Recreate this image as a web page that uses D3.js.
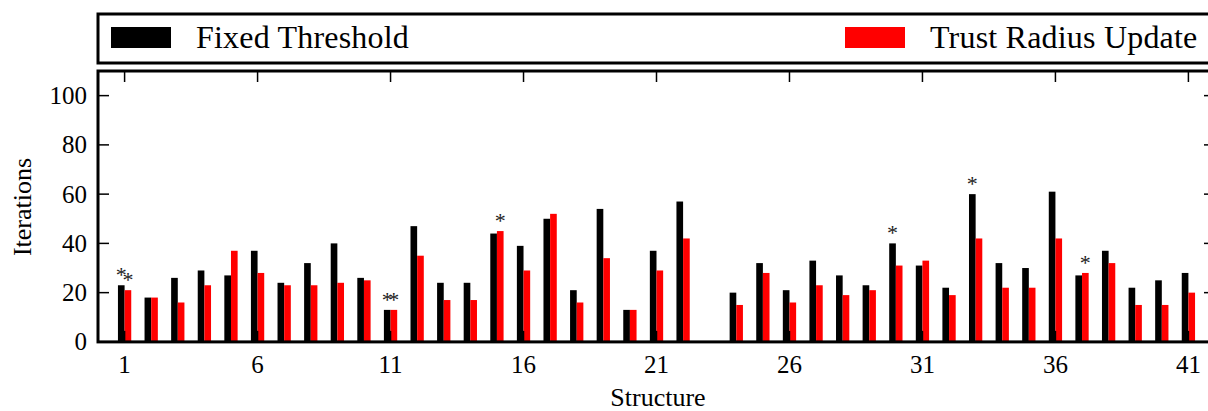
<!DOCTYPE html>
<html lang="en">
<head>
    <meta charset="UTF-8">
    <title>Iterations per Structure</title>
    <script src="https://d3js.org/d3.v7.min.js"></script>
    <style>
        body {
            margin: 0;
            background: #fff;
            font-family: "Liberation Serif", "DejaVu Serif", serif;
        }
        .bar-fixed { fill: #000; }
        .bar-trust { fill: #ff0000; }
        .spine { stroke: #000; stroke-width: 3; fill: none; }
        .tick-mark { stroke: #000; stroke-width: 1.5; }
    </style>
</head>
<body>
    <div id="chart"></div>
    <script>
        // Data (null = no run for that structure)
        var structures = d3.range(1, 42);
        var fixedThreshold = [23, 18, 26, 29, 27, 37, 24, 32, 40, 26,
                              13, 47, 24, 24, 44, 39, 50, 21, 54, 13,
                              37, 57, null, 20, 32, 21, 33, 27, 23, 40,
                              31, 22, 60, 32, 30, 61, 27, 37, 22, 25, 28];
        var trustRadius = [21, 18, 16, 23, 37, 28, 23, 23, 24, 25,
                           13, 35, 17, 17, 45, 29, 52, 16, 34, 13,
                           29, 42, null, 15, 28, 16, 23, 19, 21, 31,
                           33, 19, 42, 22, 22, 42, 28, 32, 15, 15, 20];
        // structures marked with an asterisk above the bar
        var starsFixed = [1, 11, 30, 33];
        var starsTrust = [1, 11, 15, 37];
        var yTicks = [0, 20, 40, 60, 80, 100];
        var xTicks = [1, 6, 11, 16, 21, 26, 31, 36, 41];

        var W = 1208, H = 411;
        var margin = {top: 71, left: 98, bottom: 69};
        var plotRight = 1215;   // right spine falls just outside the window

        var svg = d3.select("#chart").append("svg")
            .attr("width", W)
            .attr("height", H);

        var x = d3.scaleLinear().domain([0, 42]).range([margin.left, plotRight]);
        var y = d3.scaleLinear().domain([0, 110]).range([H - margin.bottom - 0.1, margin.top]);
        var bw = x(0.25) - x(0);

        // Bars
        svg.selectAll(".bar-fixed")
            .data(structures.filter(function(s) { return fixedThreshold[s - 1] != null; }))
            .enter().append("rect")
            .attr("class", "bar-fixed")
            .attr("x", function(s) { return x(s) - bw; })
            .attr("width", bw)
            .attr("y", function(s) { return y(fixedThreshold[s - 1]); })
            .attr("height", function(s) { return y(0) - y(fixedThreshold[s - 1]); });

        svg.selectAll(".bar-trust")
            .data(structures.filter(function(s) { return trustRadius[s - 1] != null; }))
            .enter().append("rect")
            .attr("class", "bar-trust")
            .attr("x", function(s) { return x(s); })
            .attr("width", bw)
            .attr("y", function(s) { return y(trustRadius[s - 1]); })
            .attr("height", function(s) { return y(0) - y(trustRadius[s - 1]); });

        // Asterisks
        function stars(list, values, offset) {
            svg.selectAll(null)
                .data(list)
                .enter().append("text")
                .attr("x", function(s) { return x(s) + offset; })
                .attr("y", function(s) { return y(values[s - 1]) - 3; })
                .attr("text-anchor", "middle")
                .style("font-size", "22px")
                .style("fill", "#222")
                .text("*");
        }
        stars(starsFixed, fixedThreshold, -bw / 2);
        stars(starsTrust, trustRadius, bw / 2);

        // Inward ticks on all four sides
        var tk = 11;
        svg.selectAll(null).data(yTicks).enter().append("line")
            .attr("class", "tick-mark")
            .attr("x1", margin.left).attr("x2", margin.left + tk)
            .attr("y1", function(d) { return y(d); }).attr("y2", function(d) { return y(d); });
        svg.selectAll(null).data(yTicks).enter().append("line")
            .attr("class", "tick-mark")
            .attr("x1", plotRight).attr("x2", plotRight - tk)
            .attr("y1", function(d) { return y(d); }).attr("y2", function(d) { return y(d); });
        svg.selectAll(null).data(xTicks).enter().append("line")
            .attr("class", "tick-mark")
            .attr("x1", function(d) { return x(d); }).attr("x2", function(d) { return x(d); })
            .attr("y1", y(110)).attr("y2", y(110) + tk);
        svg.selectAll(null).data(xTicks).enter().append("line")
            .attr("class", "tick-mark")
            .attr("x1", function(d) { return x(d); }).attr("x2", function(d) { return x(d); })
            .attr("y1", y(0)).attr("y2", y(0) - tk);

        // Spines
        svg.append("rect")
            .attr("class", "spine")
            .attr("x", margin.left)
            .attr("y", y(110))
            .attr("width", plotRight - margin.left)
            .attr("height", y(0) - y(110));

        // Tick labels
        svg.selectAll(null).data(yTicks).enter().append("text")
            .attr("x", 87)
            .attr("y", function(d) { return y(d); })
            .attr("dy", "0.34em")
            .attr("text-anchor", "end")
            .style("font-size", "25px")
            .text(function(d) { return d; });

        svg.selectAll(null).data(xTicks).enter().append("text")
            .attr("x", function(d) { return x(d); })
            .attr("y", 373)
            .attr("text-anchor", "middle")
            .style("font-size", "25px")
            .text(function(d) { return d; });

        // Axis titles
        svg.append("text")
            .attr("x", 658)
            .attr("y", 406)
            .attr("text-anchor", "middle")
            .style("font-size", "26px")
            .text("Structure");

        svg.append("text")
            .attr("transform", "translate(31," + 207 + ") rotate(-90)")
            .attr("text-anchor", "middle")
            .style("font-size", "26px")
            .text("Iterations");

        // Legend
        var legend = svg.append("g");
        legend.append("rect")
            .attr("x", margin.left)
            .attr("y", 14)
            .attr("width", plotRight - margin.left)
            .attr("height", 49)
            .style("fill", "#fff")
            .style("stroke", "#000")
            .style("stroke-width", 3);

        var legendItems = [
            {label: "Fixed Threshold", color: "#000", x: 111},
            {label: "Trust Radius Update", color: "#ff0000", x: 845}
        ];
        legend.selectAll(null).data(legendItems).enter().append("rect")
            .attr("x", function(d) { return d.x; })
            .attr("y", 27)
            .attr("width", 60)
            .attr("height", 21)
            .style("fill", function(d) { return d.color; });
        legend.selectAll(null).data(legendItems).enter().append("text")
            .attr("x", function(d) { return d.x + 85; })
            .attr("y", 48)
            .style("font-size", "32px")
            .style("letter-spacing", "0.2px")
            .text(function(d) { return d.label; });
    </script>
</body>
</html>
